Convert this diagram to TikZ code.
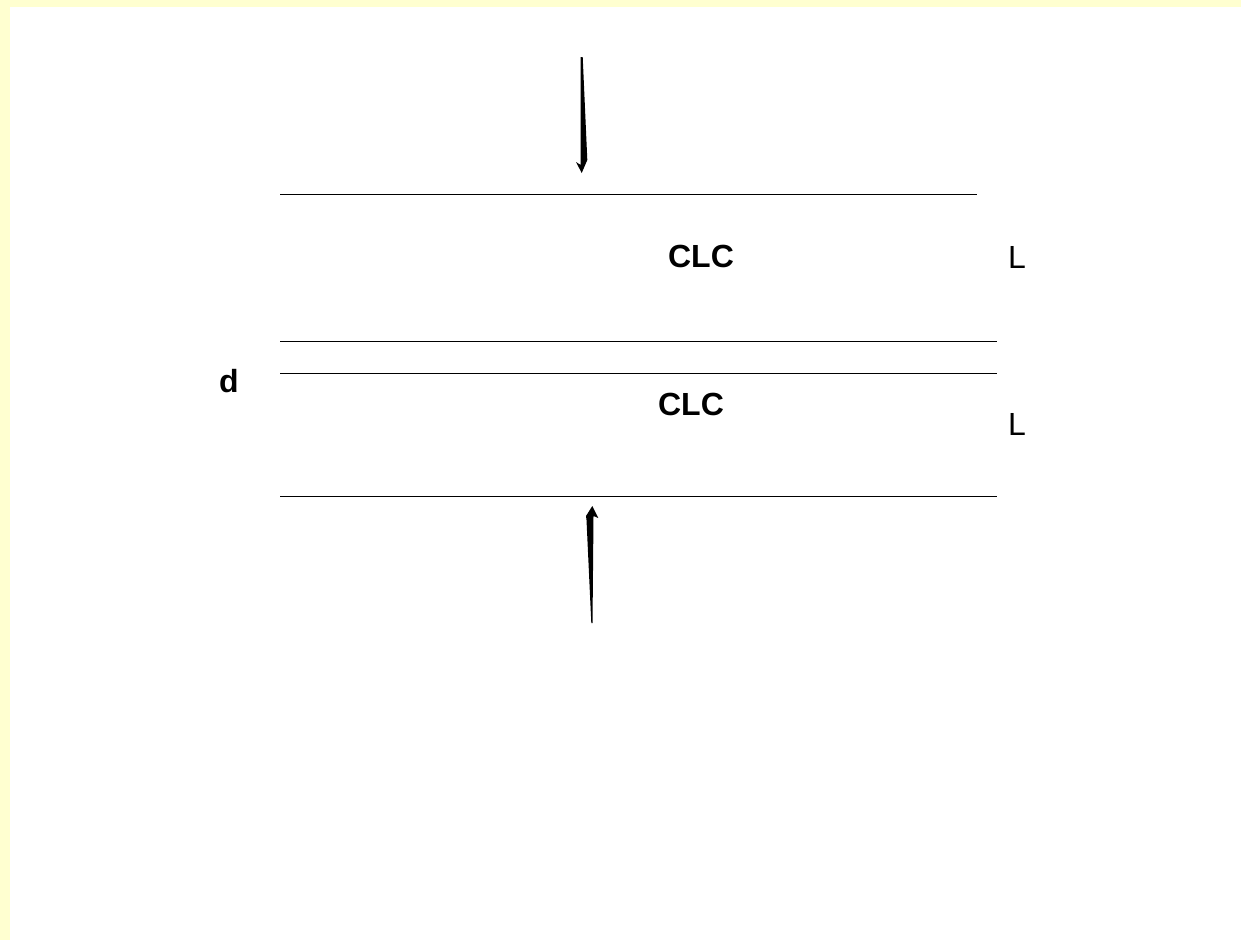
\documentclass[tikz,border=0pt]{standalone}
\usepackage{fontspec}
\setmainfont{Liberation Sans}
\usepackage{xcolor}
\usetikzlibrary{positioning,calc}
\definecolor{pagebg}{RGB}{255,255,208}

\begin{document}
\begin{tikzpicture}[x=0.75pt, y=-0.75pt,
  lbl/.style={font=\fontsize{24}{28}\selectfont\bfseries, inner sep=0pt},
  side/.style={font=\fontsize{24}{28}\selectfont, inner sep=0pt},
  plate/.style={line width=0.6pt},
  wedge/.style={fill=black, draw=none}]
  \useasboundingbox (0,0) rectangle (1241,940);
  \fill[pagebg] (0,0) rectangle (1241,940);
  \fill[white] (10,7) rectangle (1241,940);
  % layer boundaries
  \draw[plate] (280,194) -- (977,194);
  \draw[plate] (280,341) -- (997,341);
  \draw[plate] (280,373) -- (997,373);
  \draw[plate] (280,496) -- (997,496);
  % labels
  \node[lbl] (clcA) at (701,256) {CLC};
  \node[lbl] (clcB) at (691,404) {CLC};
  \node[side] (thkA) at (1017,257) {L};
  \node[side] (thkB) at (1017,424) {L};
  \node[lbl] (gap) at (229,381) {d};
  % incident light, tapered arrows
  \fill[wedge] (580.7,57) -- (582.7,57) -- (587.3,160) -- (581.7,173)
    -- (576,162) -- (580.7,165) -- cycle;
  \fill[wedge] (591.3,623) -- (586.5,520) -- (586,516) -- (592.3,506)
    -- (598.3,518) -- (593.5,516) -- (592.5,623) -- cycle;
\end{tikzpicture}
\end{document}
